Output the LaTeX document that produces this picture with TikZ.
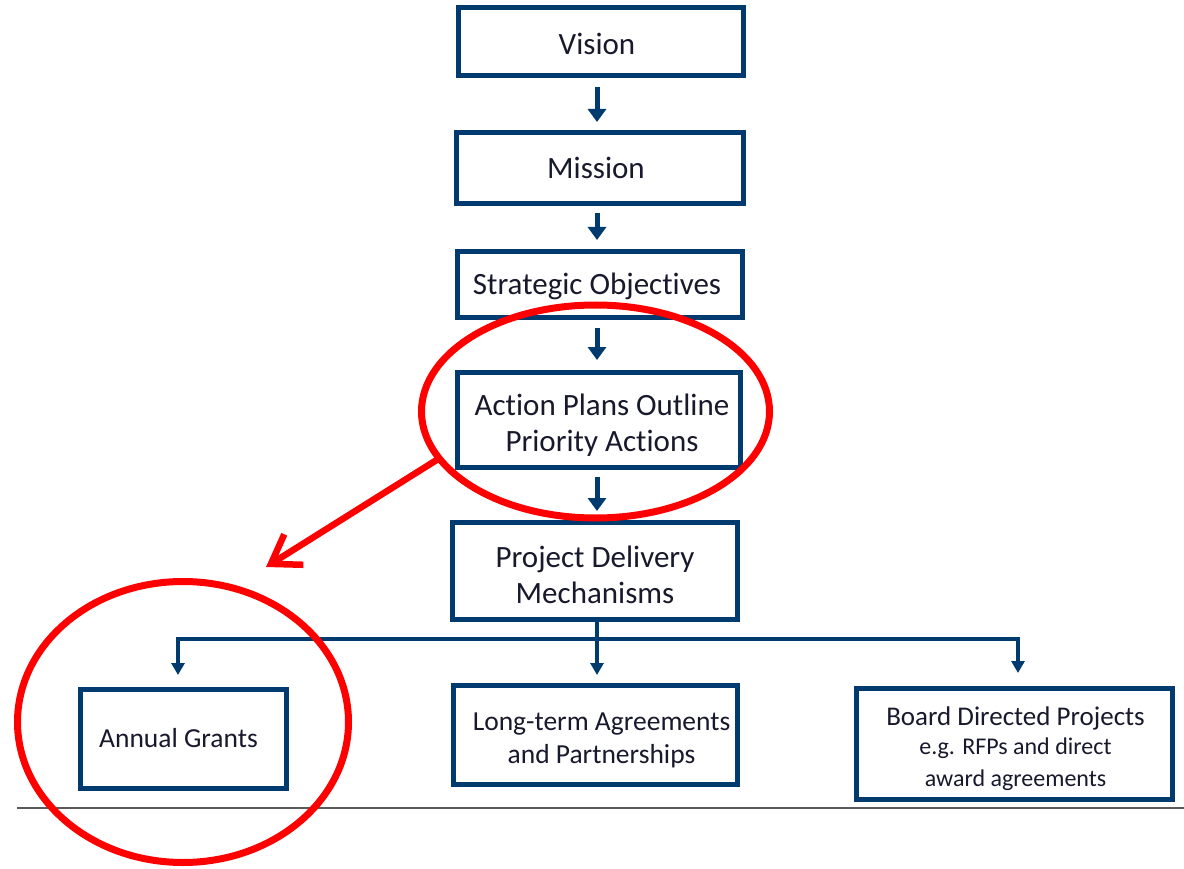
\documentclass[tikz,border=0pt]{standalone}
\usepackage{fontspec}
\setmainfont{Carlito}[Ligatures=CommonOff]
\usetikzlibrary{arrows.meta,shapes.geometric}
\definecolor{navy}{RGB}{0,59,111}
\definecolor{txt}{RGB}{25,25,45}
\definecolor{redc}{RGB}{255,0,0}
\definecolor{rule}{RGB}{90,90,90}
\begin{document}
\begin{tikzpicture}[x=1pt,y=-1pt,
  box/.style={draw=navy, line width=5pt, fill=white, inner sep=0pt},
  lbl/.style={inner sep=0pt, align=center, text=txt, font=\fontsize{31}{36}\selectfont},
  smalllbl/.style={lbl, font=\fontsize{27.5}{33}\selectfont},
  bigarrow/.style={draw=navy, line width=5pt, -{Triangle[width=18pt,length=13pt]}},
  thinarrow/.style={draw=navy, line width=3.5pt, line join=miter},
  thintip/.tip={Triangle[width=13pt,length=12pt]},
  redring/.style={ellipse, draw=redc, line width=7pt, inner sep=0pt},
  redarrow/.style={draw=redc, line width=6.5pt, line cap=round,
    -{Straight Barb[length=27pt,width=36pt]}}
]
\fill[white] (0,0) rectangle (1184,869);
\useasboundingbox (0,0) rectangle (1184,869);

\coordinate (axis) at (597,0);

\node[box, minimum width=285pt, minimum height=68pt] (vision) at (601,42) {};
\node[lbl] (visiont) at ([xshift=-4pt,yshift=-2pt]vision.center) {Vision};
\node[box, minimum width=287pt, minimum height=71pt] (mission) at (600,168) {};
\node[lbl] (missiont) at ([xshift=-4pt]mission.center) {Mission};
\node[box, minimum width=285pt, minimum height=66pt] (strategic) at (600,284.5) {};
\node[lbl] (strategict) at ([xshift=-3pt,yshift=-1.5pt]strategic.center) {Strategic Objectives};
\node[box, minimum width=283pt, minimum height=95pt] (action) at (599,420) {};
\node[lbl] (actiont) at ([xshift=3pt,yshift=-5.5pt]action.center) {Action Plans Outline\\Priority Actions};
\node[box, minimum width=285pt, minimum height=97pt] (project) at (595,571) {};
\node[lbl] (projectt) at ([yshift=-3.5pt]project.center) {Project Delivery\\Mechanisms};

\node[box, minimum width=206pt, minimum height=99pt] (annual) at (183.5,739) {};
\node[smalllbl] (annualt) at ([xshift=-5pt,yshift=1pt]annual.center) {Annual Grants};
\node[box, minimum width=284pt, minimum height=99pt] (longterm) at (595.5,735) {};
\node[smalllbl] (longtermt) at ([xshift=6pt,yshift=-5pt]longterm.center) {Long-term Agreements\\and Partnerships};
\node[box, minimum width=316pt, minimum height=111pt] (board) at (1014.5,744) {};
\node[smalllbl, font=\fontsize{27}{31}\selectfont] (boardt) at ([xshift=1pt,yshift=-4.5pt]board.center)
  {Board Directed Projects\\[-2pt]{\fontsize{24}{29}\selectfont e.g. RFPs and direct}\\[1pt]{\fontsize{24}{29}\selectfont award agreements}};

\draw[bigarrow] ([yshift=-9pt]vision.south -| axis) -- ([yshift=8pt]mission.north -| axis);
\draw[bigarrow] ([yshift=-7pt]mission.south -| axis) -- ([yshift=9pt]strategic.north -| axis);
\draw[bigarrow] ([yshift=-8pt]strategic.south -| axis) -- ([yshift=10pt]action.north -| axis);
\draw[bigarrow] ([yshift=-7pt]action.south -| axis) -- ([yshift=9pt]project.north -| axis);

\coordinate (bl) at (178,639);
\coordinate (br) at (1018,639);
\draw[thinarrow, thintip-thintip] ([yshift=12pt]annual.north -| bl) -- (bl) -- (br) -- ([yshift=13pt]board.north -| br);
\draw[thinarrow, -thintip] (project.south -| axis) -- ([yshift=8pt]longterm.north -| axis);

\coordinate (hl) at (17,808);
\coordinate (hr) at (1184,808);
\draw[rule, line width=1.5pt] (hl) -- (hr);

\node[redring, minimum width=348pt, minimum height=213pt] (e1) at (595.5,411.5) {};
\node[redring, minimum width=331pt, minimum height=281pt] (e2) at (183,722) {};
\coordinate (rtip) at (266,567);
\draw[redarrow] (e1.197) -- (rtip);
\end{tikzpicture}
\end{document}
